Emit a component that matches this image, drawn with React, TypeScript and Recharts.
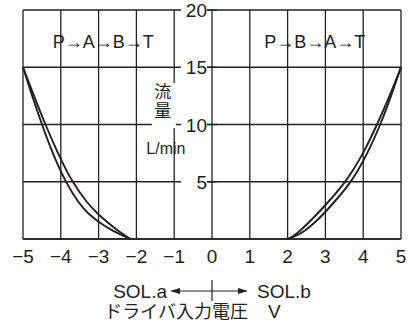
import React from "react";
import { CartesianGrid, Line, LineChart, ReferenceDot, XAxis, YAxis } from "recharts";

// flow (L/min) vs driver input voltage (V), two curves per solenoid side
const solAOuterV = [-5, -4.76, -4.5, -4.22, -3.88, -3.52, -3.29, -2.97, -2.6, -2.3, -2.16];
const solAOuterQ = [15, 12.5, 10, 7.5, 5, 3.1, 2.25, 1.4, 0.66, 0.2, 0];
const solAInnerV = [-5, -4.71, -4.41, -4.08, -3.71, -3.29, -3.04, -2.75, -2.46, -2.25, -2.16];
const solAInnerQ = [15, 12.5, 10, 7.5, 5, 3.1, 2.25, 1.4, 0.66, 0.2, 0];
const solBUpperV = [2, 2.13, 2.31, 2.55, 2.8, 3.04, 3.55, 4.01, 4.37, 4.7, 5];
const solBUpperQ = [0, 0.2, 0.66, 1.4, 2.25, 3.1, 5, 7.5, 10, 12.5, 15];
const solBLowerV = [2, 2.18, 2.44, 2.71, 2.97, 3.2, 3.7, 4.12, 4.46, 4.74, 5];
const solBLowerQ = [0, 0.2, 0.66, 1.4, 2.25, 3.1, 5, 7.5, 10, 12.5, 15];

const voltTicks = [-5, -4, -3, -2, -1, 0, 1, 2, 3, 4, 5];
const flowTicks = [0, 5, 10, 15, 20];

const INK = "#231f20";
const FONT = '"Liberation Sans", Arial, "Noto Sans CJK JP", sans-serif';
const JP = '"Noto Sans CJK JP", sans-serif';

const zip = (xs: number[], ys: number[]) => xs.map((x, i) => ({ x, y: ys[i] }));

const curves = [
  zip(solAOuterV, solAOuterQ),
  zip(solAInnerV, solAInnerQ),
  zip(solBUpperV, solBUpperQ),
  zip(solBLowerV, solBLowerQ),
];

const fmtVolt = (v: number) => (v < 0 ? "\u2212" + Math.abs(v) : String(v));

const FlowTick = (value: number) => (p: any) => (
  <g>
    <rect x={p.cx - 31} y={p.cy - 8} width={26} height={16} fill="#fff" />
    <line x1={p.cx - 5} x2={p.cx + 5} y1={p.cy} y2={p.cy} stroke={INK} strokeWidth={1.3} />
    <text x={p.cx - 5} y={p.cy + 7} textAnchor="end" fontSize={19} fontFamily={FONT} fill={INK}>
      {value}
    </text>
  </g>
);

const RouteLabel = (text: string) => (p: any) => (
  <text x={p.cx} y={p.cy + 6} textAnchor="middle" fontSize={18} fontFamily={FONT} fill={INK}>
    {text}
  </text>
);

const UnitLabel = (p: any) => (
  <g>
    <rect x={p.cx - 11} y={p.cy - 22} width={24} height={45} fill="#fff" />
    <text x={p.cx} y={p.cy - 7} textAnchor="middle" fontSize={17} fontFamily={JP} fill={INK}>
      流
    </text>
    <text x={p.cx} y={p.cy + 12} textAnchor="middle" fontSize={17} fontFamily={JP} fill={INK}>
      量
    </text>
    <text x={p.cx + 3} y={p.cy + 49} textAnchor="middle" fontSize={16} fontFamily={FONT} fill={INK}>
      L/min
    </text>
  </g>
);

const VoltCaption = (props: any) => {
  const { x, y, width } = props.viewBox;
  const cx = x + width / 2;
  const top = y + 40;
  return (
    <g fill={INK} fontFamily={FONT}>
      <text x={cx - 45} y={top + 19} textAnchor="end" fontSize={19}>SOL.a</text>
      <text x={cx + 45} y={top + 19} textAnchor="start" fontSize={19}>SOL.b</text>
      <line x1={cx - 40} x2={cx + 34} y1={top + 12} y2={top + 12} stroke={INK} strokeWidth={1.2} />
      <polygon points={`${cx - 42},${top + 12} ${cx - 32},${top + 9} ${cx - 32},${top + 15}`} />
      <polygon points={`${cx + 36},${top + 12} ${cx + 26},${top + 9} ${cx + 26},${top + 15}`} />
      <line x1={cx} x2={cx} y1={top + 1} y2={top + 22} stroke={INK} strokeWidth={1.2} />
      <text x={cx + 36} y={top + 39} textAnchor="end" fontSize={18} fontFamily={JP}>
        ドライバ入力電圧
      </text>
      <text x={cx + 56} y={top + 39} textAnchor="start" fontSize={19}>V</text>
    </g>
  );
};

const App = () => {
  return (
    <div style={{ position: "absolute", left: 0, top: 0, background: "#fff" }}>
      <LineChart width={409} height={323} margin={{ top: 10, right: 8, left: 23, bottom: 0 }}>
        <CartesianGrid stroke={INK} strokeWidth={1.3} strokeOpacity={1} />
        <XAxis
          type="number"
          dataKey="x"
          domain={[-5, 5]}
          ticks={voltTicks}
          tickFormatter={fmtVolt}
          height={84}
          tickLine={false}
          tickMargin={5}
          axisLine={{ stroke: INK, strokeWidth: 1.3 }}
          tick={{ fill: INK, fontSize: 19, fontFamily: FONT }}
          label={{ content: VoltCaption }}
        />
        <YAxis type="number" dataKey="y" domain={[0, 20]} ticks={flowTicks} hide />
        {curves.map((c, i) => (
          <Line
            key={i}
            data={c}
            dataKey="y"
            type="basis"
            stroke={INK}
            strokeWidth={1.9}
            dot={false}
            isAnimationActive={false}
          />
        ))}
        {flowTicks
          .filter((v) => v > 0)
          .map((v) => (
            <ReferenceDot key={v} x={0} y={v} r={0} shape={FlowTick(v)} />
          ))}
        <ReferenceDot x={-2.88} y={17.2} r={0} shape={RouteLabel("P→A→B→T")} />
        <ReferenceDot x={2.72} y={17.2} r={0} shape={RouteLabel("P→B→A→T")} />
        <ReferenceDot x={-1.3} y={11.7} r={0} shape={UnitLabel} />
      </LineChart>
    </div>
  );
};

export default App;
